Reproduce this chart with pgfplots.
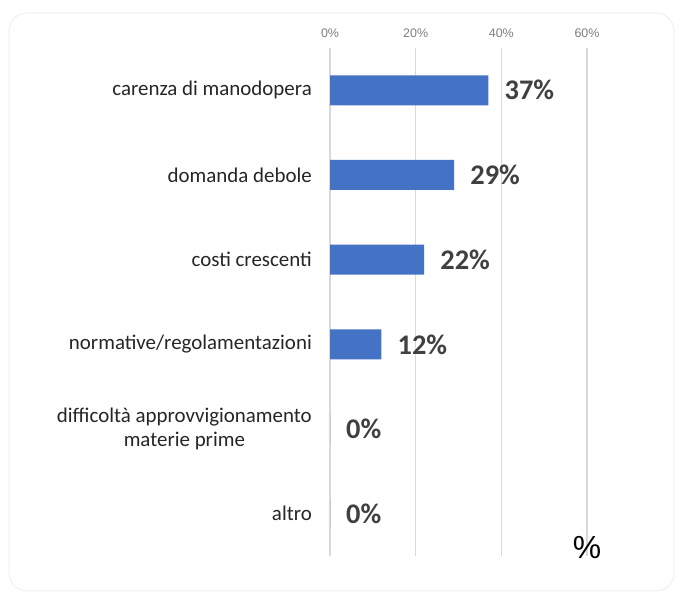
\documentclass[border=0pt]{standalone}
\usepackage{pgfplots}
\pgfplotsset{compat=1.18}
\usepackage{fontspec}
\setmainfont{Carlito}
\newfontfamily\lib{Liberation Sans}
\definecolor{barblue}{HTML}{4472C4}
\definecolor{valgray}{HTML}{404040}
\definecolor{catgray}{HTML}{262626}
\definecolor{tickgray}{HTML}{7F7F7F}
\definecolor{gridgray}{HTML}{D9D9D9}
\begin{document}
\begin{tikzpicture}[x=1bp,y=1bp]
\useasboundingbox (0,0) rectangle (682,599);
\fill[white] (0,0) rectangle (682,599);
\draw[gray!12, line width=1bp, rounded corners=18bp] (9,8) rectangle (674,586);
\begin{axis}[
  at={(330bp,43bp)}, anchor=south west,
  scale only axis, width=257bp, height=508bp,
  xbar, bar width=30bp,
  xmin=0, xmax=60, ymin=-0.5, ymax=5.5,
  y dir=reverse,
  /pgf/number format/assume math mode=true,
  axis line style={draw=none},
  major tick length=0pt,
  xtick={0,20,40,60},
  xticklabel pos=upper,
  xticklabel={\pgfmathprintnumber{\tick}\%},
  xticklabel style={font=\lib\fontsize{12.5}{14}\selectfont, text=tickgray, inner sep=0pt, anchor=south, yshift=10bp},
  xmajorgrids, grid style={gridgray, line width=1.2bp},
  ytick={0,1,2,3,4,5},
  yticklabels={carenza di manodopera, domanda debole, costi crescenti, normative/regolamentazioni, {difficoltà approvvigionamento\\materie prime}, altro},
  yticklabel style={font=\fontsize{21}{24}\selectfont, text=catgray, align=center, inner sep=0pt, anchor=east, xshift=-18bp},
  nodes near coords={\pgfmathprintnumber{\pgfplotspointmeta}\%},
  point meta=x,
  every node near coord/.append style={font=\bfseries\fontsize{28.5}{31}\selectfont, text=valgray, anchor=west, inner sep=0pt, xshift=16bp},
]
\addplot[fill=barblue, draw=none] coordinates {(37,0) (29,1) (22,2) (12,3) (0,4) (0,5)};
\end{axis}
\node[font=\lib\fontsize{32}{36}\selectfont] at (587,51) {\%};
\end{tikzpicture}
\end{document}
